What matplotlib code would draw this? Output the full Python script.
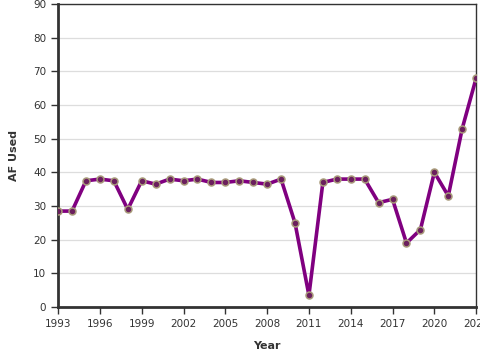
import matplotlib
matplotlib.use('Agg')
import matplotlib.pyplot as plt

years = list(range(1993, 2024))
af_used = [28.5, 28.5, 37.5, 38, 37.5, 29, 37.5, 36.5, 38, 37.5,
           38, 37, 37, 37.5, 37, 36.5, 38, 25, 3.5, 37, 38,
           38, 38, 31, 32, 19, 23, 40, 33, 53, 68]
x_ticks = list(range(1993, 2024, 3))
y_ticks = list(range(0, 91, 10))

fig = plt.figure(figsize=(4.8, 3.6), dpi=100)
ax = fig.add_axes([0.121, 0.147, 0.871, 0.842])

# gridlines
ax.grid(axis='y', color='#dddddd', linewidth=0.9, zorder=0)
ax.set_axisbelow(True)

ax.plot(years, af_used, color='#800080', linewidth=2.6, zorder=3,
        marker='o', markersize=5, markerfacecolor='#6b1f5e',
        markeredgecolor='#a89a7a', markeredgewidth=1.1)

ax.set_xlim(1993, 2023)
ax.set_ylim(0, 90)
ax.set_xticks(x_ticks)
ax.set_yticks(y_ticks)

# spines
for side in ['left', 'bottom']:
    ax.spines[side].set_linewidth(2)
    ax.spines[side].set_color('#333333')
for side in ['top', 'right']:
    ax.spines[side].set_linewidth(1)
    ax.spines[side].set_color('#333333')

ax.tick_params(axis='both', labelsize=7.5, colors='#333333', length=5, width=1)
ax.set_xlabel('Year', fontsize=8, fontweight='bold', color='#333333', labelpad=9)
ax.set_ylabel('AF Used', fontsize=8, fontweight='bold', color='#333333', labelpad=10)

fig.savefig('out.png', dpi=100)
